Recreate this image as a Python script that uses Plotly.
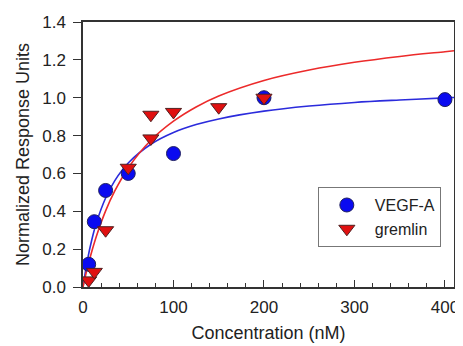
import plotly.graph_objects as go

# Measured data
vegf_x = [6.25, 12.5, 25, 50, 100, 200, 400]
vegf_y = [0.12, 0.345, 0.51, 0.60, 0.705, 1.00, 0.99]

gremlin_x = [6.25, 12.5, 25, 50, 75, 75, 100, 150, 200]
gremlin_y = [0.035, 0.08, 0.30, 0.63, 0.91, 0.785, 0.925, 0.95, 1.00]

# Fitted curves
fit_x = [0, 5, 10, 15, 25, 35, 50, 75, 100, 125, 150, 200, 250, 300, 350, 400, 410]
vegf_fit_y = [0, 0.145, 0.255, 0.342, 0.470, 0.561, 0.655, 0.754, 0.816, 0.858, 0.888, 0.929, 0.956, 0.975, 0.988, 0.999, 1.001]
gremlin_fit_y = [0, 0.104, 0.193, 0.271, 0.402, 0.506, 0.629, 0.775, 0.876, 0.951, 1.009, 1.091, 1.146, 1.187, 1.218, 1.243, 1.248]

x_ticks = [0, 100, 200, 300, 400]
y_ticks = [0.0, 0.2, 0.4, 0.6, 0.8, 1.0, 1.2, 1.4]

FONT = "Arial, 'Liberation Sans', sans-serif"
AXC = "#333333"

fig = go.Figure()
fig.add_trace(go.Scatter(x=fit_x, y=vegf_fit_y, mode="lines", line=dict(color="#2b2bdc", width=1.6, shape="spline"),
                         showlegend=False, hoverinfo="skip"))
fig.add_trace(go.Scatter(x=fit_x, y=gremlin_fit_y, mode="lines", line=dict(color="#ec2a2a", width=1.6, shape="spline"),
                         showlegend=False, hoverinfo="skip"))
fig.add_trace(go.Scatter(x=vegf_x, y=vegf_y, mode="markers", name="VEGF-A",
                         marker=dict(symbol="circle", size=14, color="#0a0af0", line=dict(color="#202060", width=1))))
fig.add_trace(go.Scatter(x=gremlin_x, y=gremlin_y, mode="markers", name="gremlin",
                         marker=dict(symbol="triangle-down", size=14, color="#e01010", line=dict(color="#502020", width=1))))

# page body has an 8px margin, so the figure is sized/offset to compensate
fig.update_layout(
    width=455, height=338,
    margin=dict(l=75, r=9, t=14, b=59),
    paper_bgcolor="white", plot_bgcolor="white",
    font=dict(family=FONT, size=16, color="#222222"),
    legend=dict(x=0.633, y=0.377, xanchor="left", yanchor="top",
                bgcolor="white", bordercolor="#777777", borderwidth=1,
                font=dict(size=16), itemwidth=46, tracegroupgap=0),
    xaxis=dict(range=[0, 410], tickvals=x_ticks, ticks="inside", ticklen=7, tickwidth=1.2, tickcolor=AXC,
               minor=dict(dtick=20, tick0=0, ticks="inside", ticklen=4, tickcolor=AXC, tickwidth=1.2),
               showline=True, linecolor=AXC, linewidth=1.5, mirror=True, showgrid=False, zeroline=False,
               automargin=False, ticklabelstandoff=4,
               title=dict(text="Concentration (nM)", font=dict(size=18), standoff=10),
               tickfont=dict(size=17)),
    yaxis=dict(range=[0, 1.4], tickvals=y_ticks, tickformat=".1f", ticks="outside", ticklen=8, tickwidth=1.2, tickcolor=AXC,
               showline=True, linecolor=AXC, linewidth=1.5, mirror=True, showgrid=False, zeroline=False,
               automargin=False, ticklabelstandoff=4,
               title=dict(text="Normalized Response Units", font=dict(size=18), standoff=8),
               tickfont=dict(size=17)),
)

fig.write_html("out.html")
